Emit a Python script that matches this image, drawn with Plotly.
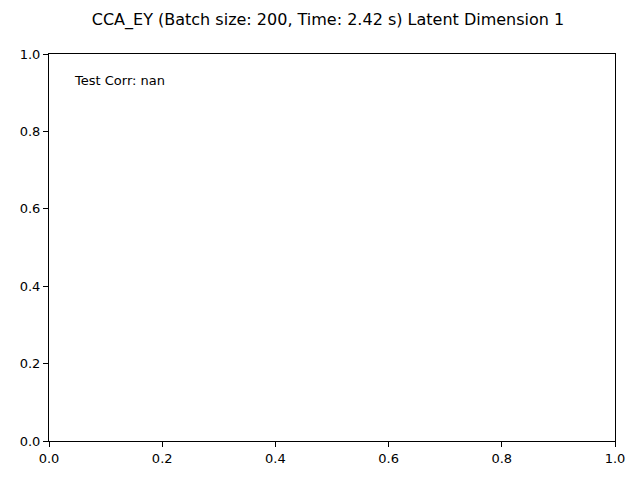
import plotly.graph_objects as go

tick_vals = [0.0, 0.2, 0.4, 0.6, 0.8, 1.0]
tick_text = ["0.0", "0.2", "0.4", "0.6", "0.8", "1.0"]
x_values = []
y_values = []
title = "CCA_EY (Batch size: 200, Time: 2.42 s) Latent Dimension 1"
note = "Test Corr: nan"

fig = go.Figure(go.Scatter(x=x_values, y=y_values, mode="markers"))
ax = dict(range=[0, 1], tickvals=tick_vals, ticktext=tick_text, showgrid=False,
          zeroline=False, showline=True, linecolor="black", linewidth=1, mirror=True,
          ticks="outside", ticklen=5, tickcolor="black", tickfont=dict(size=13, color="black"))
fig.update_layout(
    width=640, height=480, plot_bgcolor="white", paper_bgcolor="white",
    font=dict(family="DejaVu Sans", color="black"),
    margin=dict(l=39, r=33, t=46, b=47), showlegend=False,
    title=dict(text=title, x=0.5, xanchor="center", y=1 - 11/480, yanchor="middle",
               font=dict(size=16)),
    xaxis=ax, yaxis=ax,
)
fig.add_annotation(x=0.05, y=0.95, xref="x domain", yref="y domain", text=note,
                   showarrow=False, xanchor="left", yanchor="top", font=dict(size=13),
                   xshift=-5, yshift=2)
fig.write_html("out.html")
